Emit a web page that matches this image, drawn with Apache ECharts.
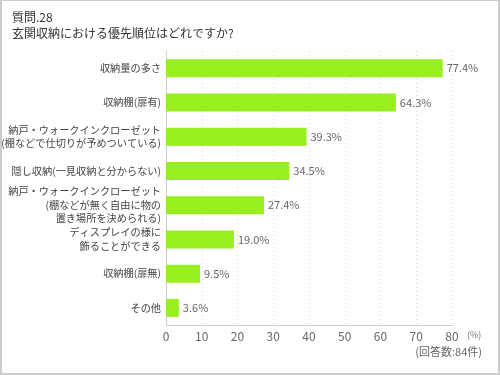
<!DOCTYPE html>
<html><head><meta charset="utf-8">
<script src="https://cdn.jsdelivr.net/npm/echarts@6/dist/echarts.min.js"></script>
<style>
html,body{margin:0;padding:0;background:#fff;}
#wrap{position:relative;width:500px;height:375px;box-sizing:border-box;border:2px solid #cccccc;border-top-width:1px;}
#c{position:absolute;left:-2px;top:-1px;width:500px;height:375px;}
</style></head>
<body><div id="wrap"><div id="c"></div></div>
<script>
const titleLines = ['質問.28', '玄関収納における優先順位はどれですか?'];
const categories = [
  '収納量の多さ',
  '収納棚(扉有)',
  '納戸・ウォークインクローゼット\n(棚などで仕切りが予めついている)',
  '隠し収納(一見収納と分からない)',
  '納戸・ウォークインクローゼット\n(棚などが無く自由に物の\n置き場所を決められる)',
  'ディスプレイの様に\n飾ることができる',
  '収納棚(扉無)',
  'その他'
];
const values = [77.4, 64.3, 39.3, 34.5, 27.4, 19.0, 9.5, 3.6];
const axisUnit = '(%)';
const note = '(回答数:84件)';

const font = '"Noto Sans CJK JP", "Noto Sans", sans-serif';
const chart = echarts.init(document.getElementById('c'), null, {renderer: 'canvas'});
chart.setOption({
  animation: false,
  textStyle: {fontFamily: font},
  graphic: [
    {type: 'text', left: 12, top: 9, style: {text: titleLines.join('\n'), font: '12px ' + font, fill: '#333', lineHeight: 16}},
    {type: 'text', left: 467, top: 330, style: {text: axisUnit, font: '9px ' + font, fill: '#777'}},
    {type: 'text', right: 18, top: 346, style: {text: note, font: '11px ' + font, fill: '#666'}}
  ],
  grid: {left: 166, right: 48, top: 51, bottom: 50, containLabel: false, outerBoundsMode: 'none'},
  xAxis: {
    type: 'value', min: 0, max: 80, interval: 10,
    axisLine: {show: true, lineStyle: {color: '#cccccc'}},
    axisTick: {show: false},
    axisLabel: {color: '#666', fontSize: 12, fontFamily: font, margin: 5},
    splitLine: {show: true, lineStyle: {color: '#d8d8d8', type: [1, 3]}}
  },
  yAxis: {
    type: 'category', data: categories, inverse: true,
    axisLine: {show: true, lineStyle: {color: '#cccccc'}},
    axisTick: {show: false},
    axisLabel: {color: '#444', fontSize: 10.2, fontFamily: font, margin: 5, lineHeight: 13.5, align: 'right'}
  },
  series: [{
    type: 'bar', data: values, barWidth: 18,
    itemStyle: {color: '#98ee1e'},
    label: {show: true, position: 'right', distance: 4, color: '#666', fontSize: 11, fontFamily: font,
      formatter: p => p.value.toFixed(1) + '%'}
  }]
});
</script></body></html>
